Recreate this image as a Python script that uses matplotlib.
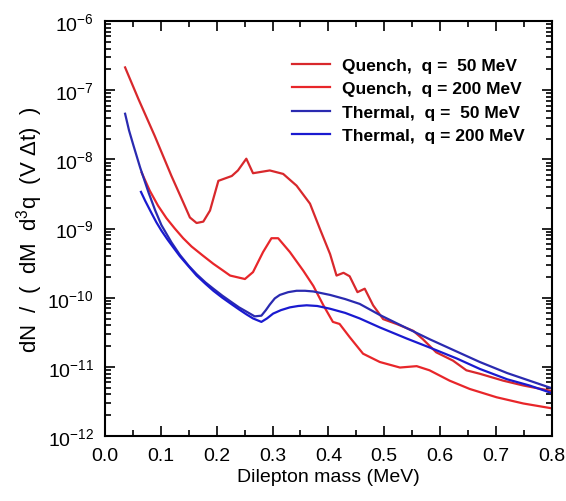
import numpy as np
import matplotlib
matplotlib.use('Agg')
import matplotlib.pyplot as plt
from matplotlib.ticker import MultipleLocator, NullFormatter

plt.rcParams['font.family'] = ['Liberation Sans', 'DejaVu Sans']
plt.rcParams['mathtext.default'] = 'regular'

# Quench, q = 50 MeV  (mass as on the axis, log10 of the rate)
quench50_m = [0.036, 0.060, 0.089, 0.119, 0.140, 0.152, 0.164, 0.176, 0.188, 0.203,
              0.227, 0.238, 0.253, 0.265, 0.295, 0.319, 0.343, 0.367, 0.385, 0.403,
              0.4145, 0.427, 0.438, 0.452, 0.465, 0.480, 0.498, 0.522, 0.552, 0.569,
              0.593, 0.623, 0.647, 0.671, 0.713, 0.749, 0.800]
quench50_log = [-6.67, -7.13, -7.66, -8.24, -8.62, -8.84, -8.92, -8.90, -8.74, -8.31,
                -8.24, -8.16, -7.99, -8.20, -8.16, -8.21, -8.38, -8.64, -9.01, -9.37,
                -9.68, -9.64, -9.69, -9.92, -9.87, -10.11, -10.31, -10.38, -10.48, -10.60,
                -10.79, -10.91, -11.05, -11.10, -11.20, -11.27, -11.35]

# Quench, q = 200 MeV
quench200_m = [0.0656, 0.080, 0.095, 0.110, 0.125, 0.140, 0.155, 0.175, 0.194, 0.210,
               0.224, 0.2505, 0.265, 0.283, 0.298, 0.310, 0.331, 0.355, 0.373, 0.391,
               0.408, 0.420, 0.438, 0.462, 0.492, 0.528, 0.558, 0.581, 0.617, 0.653,
               0.701, 0.749, 0.800]
quench200_log = [-8.19, -8.45, -8.67, -8.85, -9.00, -9.14, -9.26, -9.39, -9.51, -9.60,
                 -9.68, -9.73, -9.63, -9.34, -9.14, -9.14, -9.34, -9.61, -9.83, -10.11,
                 -10.35, -10.38, -10.57, -10.81, -10.93, -11.01, -10.99, -11.05, -11.20, -11.32,
                 -11.44, -11.53, -11.60]

# Thermal, q = 50 MeV
thermal50_m = [0.036, 0.043, 0.051, 0.063, 0.078, 0.090, 0.101, 0.119, 0.134, 0.150,
               0.164, 0.180, 0.194, 0.210, 0.224, 0.240, 0.253, 0.268, 0.280, 0.288,
               0.295, 0.304, 0.313, 0.328, 0.343, 0.358, 0.373, 0.403, 0.430, 0.456,
               0.492, 0.540, 0.581, 0.630, 0.671, 0.720, 0.760, 0.800]
thermal50_log = [-7.34, -7.58, -7.80, -8.12, -8.48, -8.74, -8.95, -9.20, -9.38, -9.54,
                 -9.66, -9.78, -9.87, -9.97, -10.05, -10.14, -10.20, -10.27, -10.26, -10.18,
                 -10.10, -10.01, -9.96, -9.92, -9.90, -9.90, -9.91, -9.96, -10.02, -10.09,
                 -10.25, -10.44, -10.60, -10.78, -10.93, -11.09, -11.20, -11.31]

# Thermal, q = 200 MeV
thermal200_m = [0.0644, 0.072, 0.0835, 0.092, 0.101, 0.112, 0.122, 0.134, 0.150, 0.164,
                0.180, 0.194, 0.210, 0.224, 0.240, 0.253, 0.265, 0.280, 0.290, 0.301,
                0.315, 0.331, 0.346, 0.361, 0.380, 0.403, 0.430, 0.456, 0.492, 0.540,
                0.581, 0.630, 0.671, 0.720, 0.760, 0.800]
thermal200_log = [-8.47, -8.60, -8.78, -8.91, -9.03, -9.16, -9.27, -9.40, -9.55, -9.68,
                  -9.80, -9.90, -10.00, -10.08, -10.17, -10.24, -10.30, -10.35, -10.30, -10.23,
                  -10.18, -10.14, -10.12, -10.11, -10.12, -10.16, -10.22, -10.30, -10.43, -10.59,
                  -10.72, -10.88, -11.03, -11.18, -11.27, -11.38]

decades = [-12, -11, -10, -9, -8, -7, -6]

series = [
    ('Quench,  q =  50 MeV', quench50_m, quench50_log, '#d8282c'),
    ('Quench,  q = 200 MeV', quench200_m, quench200_log, '#e8262a'),
    ('Thermal,  q =  50 MeV', thermal50_m, thermal50_log, '#2a2ab0'),
    ('Thermal,  q = 200 MeV', thermal200_m, thermal200_log, '#1a1ad0'),
]

fig = plt.figure(figsize=(5.66, 5.02), dpi=100)
ax = fig.add_axes([0.1855, 0.1295, 0.7895, 0.8265])

for label, m, lg, color in series:
    ax.semilogy(m, 10.0 ** np.array(lg), color=color, lw=1.6, label=label)

ax.set_xlim(0.0, 0.8)
ax.set_ylim(1e-12, 1e-6)
ax.xaxis.set_major_locator(MultipleLocator(0.1))
ax.xaxis.set_minor_locator(MultipleLocator(0.05))
ax.xaxis.set_major_formatter(plt.FuncFormatter(lambda v, p: '%.1f' % v))

ax.set_yticks([10.0 ** d for d in decades],
              [r'$10^{%d}$' % d for d in decades])
minor = [k * 10.0 ** d for d in decades[:-1] for k in range(2, 10)]
ax.set_yticks(minor, minor=True)
ax.yaxis.set_minor_formatter(NullFormatter())
ax.set_ylim(1e-12, 1e-6)

ax.tick_params(which='both', direction='in', top=True, right=True, width=1.2)
ax.tick_params(which='major', length=7, labelsize=14, pad=8)
ax.tick_params(which='minor', length=4)
for s in ax.spines.values():
    s.set_linewidth(1.5)

ax.set_xlabel('Dilepton mass (MeV)', fontsize=14, labelpad=3)
ax.set_ylabel(r'dN  /  (  dM  d$^3$q  (V $\Delta$t)  )', fontsize=16, labelpad=2)

leg = ax.legend(loc='upper right', bbox_to_anchor=(0.975, 0.95), frameon=False,
                handlelength=2.2, handletextpad=0.7, labelspacing=0.48,
                prop={'weight': 'bold', 'size': 12.5})

fig.savefig('out.png', dpi=100)
